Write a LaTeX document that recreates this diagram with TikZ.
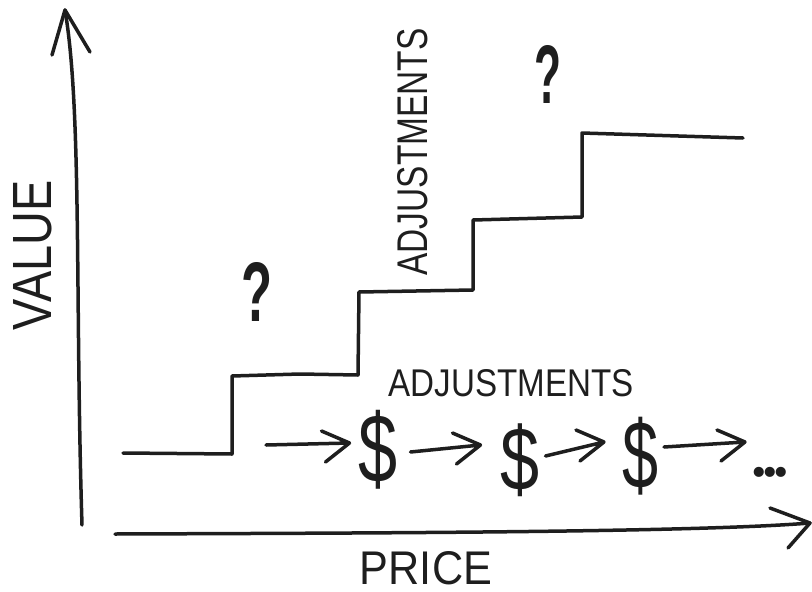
\documentclass[tikz,border=0pt]{standalone}
\usepackage{fontspec}
\setmainfont{Liberation Sans}
\newfontfamily\dotfont{Liberation Serif}
\usepackage{graphicx}
\usetikzlibrary{arrows.meta}
\definecolor{inkc}{HTML}{1E1E1E}
\begin{document}
\begin{tikzpicture}[x=1pt,y=-1pt,
  ink/.style={line width=3.5pt,line cap=round,line join=round,draw=inkc},
  chev/.style={ink,to path={-- (\tikztotarget) -- +(-28,-12) (\tikztotarget) -- +(-24,19)}},
  lbl/.style={inner sep=0pt,outer sep=0pt,text=inkc}]
\useasboundingbox (0,0) rectangle (812,592);

% axes
\coordinate (yb) at (82,525);
\coordinate (yt) at (65,10);
\draw[ink] (yb) .. controls (75,300) and (82,110) .. (yt);
\draw[ink] (yt) +(-13,45) -- (yt) -- +(25,42);
\coordinate (xb) at (115,534);
\coordinate (xt) at (810,523);
\draw[ink] (xb) .. controls (400,533) and (700,532) .. (xt);
\draw[ink] (xt) +(-40,-15) -- (xt) -- +(-22,25);

% staircase
\draw[ink] (123,453) -- (232,454) -- (232,376) -- (300,374) -- (358,375) -- (359,292)
  -- (473,290) -- (473,220) -- (582,217) -- (582,133) -- (743,138);

% labels
\node[lbl,rotate=90] (value) at (33,255) {\resizebox{150pt}{38pt}{VALUE}};
\node[lbl] (price) at (426,568) {\resizebox{132pt}{33pt}{PRICE}};
\node[lbl,rotate=90] (adjv) at (413,152) {\resizebox{247pt}{30pt}{ADJUSTMENTS}};
\node[lbl] (adjh) at (511,383) {\resizebox{245pt}{27pt}{ADJUSTMENTS}};
\node[lbl] (q1) at (257,292) {\resizebox{31pt}{59pt}{\bfseries ?}};
\node[lbl] (q2) at (548,74) {\resizebox{27pt}{58pt}{\bfseries ?}};

% price chain
\node[lbl] (d1) at (378,450) {\resizebox*{39pt}{79pt}{\$}};
\node[lbl] (d2) at (520,460) {\resizebox*{39pt}{73pt}{\$}};
\node[lbl] (d3) at (641,456) {\resizebox*{36pt}{78pt}{\$}};
\node[lbl,font=\dotfont\fontsize{62}{62}\selectfont\bfseries] (dots) at (770,472) {.\kern-0.07em.\kern-0.07em.};
\coordinate (a0) at (266,445);
\coordinate (a4) at (745,442);
\draw[chev] (a0) to ([xshift=-9pt,yshift=7pt]d1.west);
\draw[chev] ([xshift=13pt,yshift=-2pt]d1.east) to ([xshift=-20pt,yshift=15pt]d2.west);
\draw[chev] ([xshift=6pt,yshift=4pt]d2.east) to ([xshift=-19pt,yshift=14pt]d3.west);
\draw[chev] ([xshift=5pt,yshift=9pt]d3.east) to (a4);
\end{tikzpicture}
\end{document}
